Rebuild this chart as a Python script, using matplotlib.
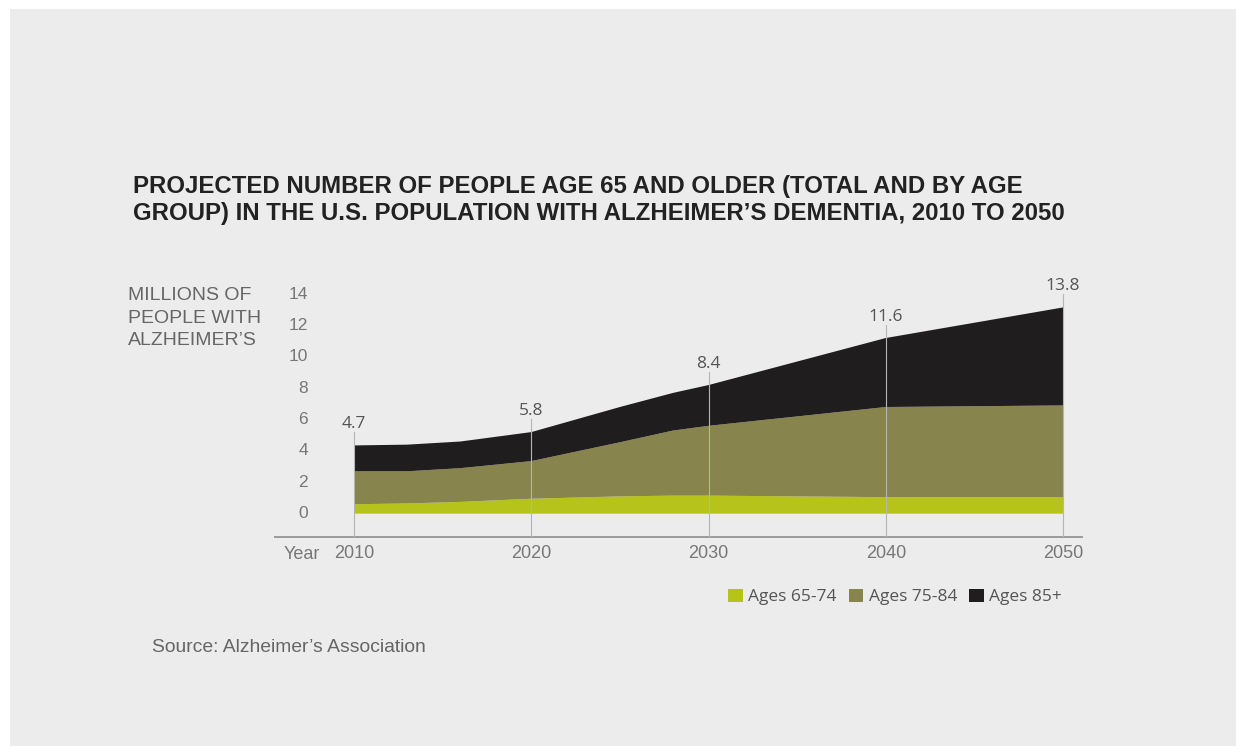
import matplotlib
matplotlib.use("Agg")
import matplotlib.pyplot as plt
from matplotlib.patches import Rectangle

# ---- data (millions) ----
years = [2010, 2013, 2016, 2020, 2025, 2028, 2030, 2040, 2050]
ages_65_74 = [0.6, 0.65, 0.75, 0.95, 1.1, 1.15, 1.15, 1.05, 1.05]
ages_75_84 = [2.1, 2.05, 2.15, 2.4, 3.45, 4.15, 4.45, 5.75, 5.85]
ages_85_plus = [1.65, 1.7, 1.7, 1.85, 2.25, 2.4, 2.6, 4.4, 6.25]
series_labels = ["Ages 65-74", "Ages 75-84", "Ages 85+"]
colors = ["#b6c31b", "#88844d", "#1f1d1e"]

label_years = [2010, 2020, 2030, 2040, 2050]
label_totals = ["4.7", "5.8", "8.4", "11.6", "13.8"]
ytick_values = [0, 2, 4, 6, 8, 10, 12, 14]
xtick_years = [2010, 2020, 2030, 2040, 2050]

title = ("PROJECTED NUMBER OF PEOPLE AGE 65 AND OLDER (TOTAL AND BY AGE\n"
         "GROUP) IN THE U.S. POPULATION WITH ALZHEIMER\u2019S DEMENTIA, 2010 TO 2050")
ylabel = "MILLIONS OF\nPEOPLE WITH\nALZHEIMER\u2019S"
source = "Source: Alzheimer\u2019s Association"

W, H = 1236, 746
fig = plt.figure(figsize=(W / 100, H / 100), dpi=100, facecolor="white")
fig.patches.append(Rectangle((10 / W, 0), 1, 1 - 9 / H, transform=fig.transFigure,
                             facecolor="#ececec", edgecolor="none", zorder=-10))

ax = fig.add_axes([275 / W, 1 - 537 / H, 807 / W, 257 / H])
ax.set_facecolor("none")
ax.set_xlim(2005.54, 2051.07)
ax.set_ylim(-1.49, 14.9)

polys = ax.stackplot(years, ages_65_74, ages_75_84, ages_85_plus,
                     colors=colors, labels=series_labels, linewidth=0, zorder=2)

tops = [a + b + c for a, b, c in zip(ages_65_74, ages_75_84, ages_85_plus)]
top_at = dict(zip(years, tops))
for yr, lab in zip(label_years, label_totals):
    t = top_at[yr]
    ax.annotate(lab, xy=(yr, t), xytext=(0, 21), textcoords="offset pixels",
                ha="center", va="center", fontsize=12.5, color="#555555",
                family="Open Sans", zorder=4)
    ax.plot([yr, yr], [-1.49, t + 0.85], color="#b5b5b5", lw=0.8, zorder=3)

for s in ["top", "right", "left"]:
    ax.spines[s].set_visible(False)
ax.spines["bottom"].set_color("#9a9a9a")
ax.spines["bottom"].set_linewidth(1.4)

ax.set_yticks([])
ytr = ax.get_yaxis_transform()
for v in ytick_values:
    ax.text(0.041, v, str(v), transform=ytr, ha="right", va="center",
            fontsize=12.5, color="#777777", family="Liberation Sans")

ax.set_xticks(xtick_years)
ax.set_xticklabels([str(y) for y in xtick_years], fontsize=13, color="#777777",
                   family="Liberation Sans")
ax.tick_params(axis="x", length=0, pad=6)
ax.text(0.011, -0.068, "Year", transform=ax.transAxes, ha="left", va="center",
        fontsize=13, color="#777777", family="Liberation Sans")

fig.text(133 / W, 1 - 200 / H, title, ha="left", va="center", fontsize=17.3,
         fontweight="bold", color="#222222", family="Liberation Sans",
         linespacing=1.22)
fig.text(128 / W, 1 - 318 / H, ylabel, ha="left", va="center", fontsize=14,
         color="#666666", family="Liberation Sans", linespacing=1.4)
fig.text(152 / W, 1 - 647 / H, source, ha="left", va="center", fontsize=13.9,
         color="#666666", family="Liberation Sans")

leg = fig.legend(handles=polys, labels=series_labels, loc="center left",
                 bbox_to_anchor=(728 / W, 1 - 597 / H), ncol=3, frameon=False,
                 fontsize=12.5, handlelength=0.85, handleheight=0.85,
                 handletextpad=0.3, columnspacing=0.7, borderaxespad=0,
                 borderpad=0)
for t in leg.get_texts():
    t.set_color("#555555")
    t.set_family("Open Sans")

fig.savefig("out.png", dpi=100, facecolor=fig.get_facecolor())
